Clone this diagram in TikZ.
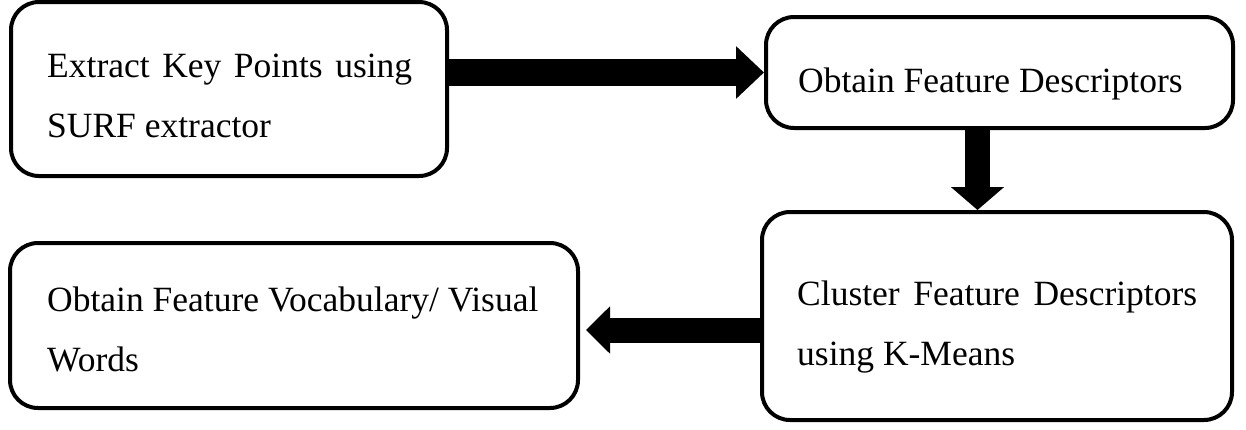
\documentclass[tikz,border=0pt]{standalone}
\usepackage{fontspec}
\setmainfont{Liberation Serif}
\usetikzlibrary{arrows.meta,calc}
\begin{document}
\begin{tikzpicture}[x=1pt,y=-1pt,
  box/.style={draw=black,line width=4pt,rounded corners=28pt,inner sep=0pt},
  txt/.style={anchor=base west,inner sep=0pt,font=\fontsize{35.5}{60}\selectfont}]
\useasboundingbox (0,0) rectangle (1246,429);
% boxes
\node[box,minimum width=436pt,minimum height=174pt] (b1) at (229,89) {};
\node[box,minimum width=467pt,minimum height=111pt] (b2) at (999.5,72.5) {};
\node[box,minimum width=470pt,minimum height=208pt] (b3) at (997,316) {};
\node[box,minimum width=568pt,minimum height=165pt] (b4) at (294,325.5) {};
% texts
\node[txt] (t1a) at (47,77) {\makebox[365pt][s]{Extract Key Points using}};
\node[txt] (t1b) at (47,137) {SURF extractor};
\node[txt] (t2) at (798,92) {Obtain Feature Descriptors};
\node[txt] (t3a) at (797,305) {\makebox[400pt][s]{Cluster Feature Descriptors}};
\node[txt] (t3b) at (797,365) {using K-Means};
\node[txt] (t4a) at (47,311) {Obtain Feature Vocabulary/ Visual};
\node[txt] (t4b) at (47,371) {Words};
% arrows
\draw[line width=27pt,-{Triangle[length=28pt,width=51pt]}]
  (b1.east |- b2.west) -- (b2.west);
\draw[line width=25pt,-{Triangle[length=23pt,width=52pt]}]
  ([xshift=-22pt]b2.south) -- ([xshift=-22pt]b2.south |- b3.north);
\draw[line width=25pt,-{Triangle[length=24pt,width=46pt]}]
  ([yshift=-14pt]b3.west) -- ([yshift=-14pt,xshift=6pt]b3.west -| b4.east);
\end{tikzpicture}
\end{document}
